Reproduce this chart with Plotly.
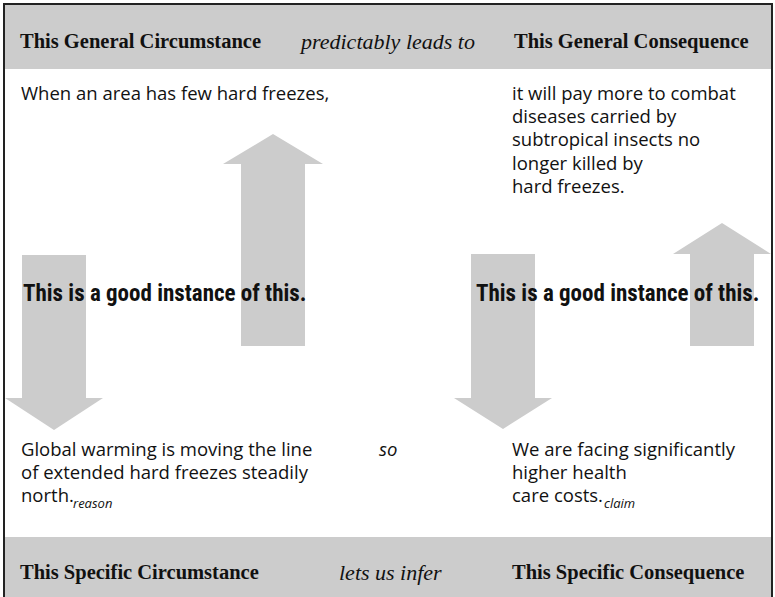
import plotly.graph_objects as go

W, H = 775, 597
GRAY = "#cccccc"
SERIF = "Liberation Serif"
SANS = "Open Sans"
COND = "Roboto Condensed, Liberation Sans Narrow, Roboto"

header_top = ["This General Circumstance", "predictably leads to", "This General Consequence"]
header_bottom = ["This Specific Circumstance", "lets us infer", "This Specific Consequence"]
general_left = ["When an area has few hard freezes,"]
general_right = ["it will pay more to combat", "diseases carried by", "subtropical insects no",
                 "longer killed by", "hard freezes."]
specific_left = ["Global warming is moving the line", "of extended hard freezes steadily", "north."]
specific_right = ["We are facing significantly", "higher health", "care costs."]
labels = ["reason", "claim"]
connector = "so"
instance_text = "This is a good instance of this."

# arrows: (center x, shaft half width, head half width, shaft end y, head base y, tip y)
arrows = [
    (273, 32, 50, 346, 164, 134),   # up, left-centre
    (54, 32, 49, 255, 398, 430),    # down, left
    (503, 32, 49, 254, 398, 429),   # down, right-centre
    (722, 32, 49, 346, 254, 223),   # up, right
]

fig = go.Figure()
shapes = []
shapes.append(dict(type="rect", x0=4, x1=772, y0=4, y1=69, fillcolor=GRAY, line_width=0, layer="below"))
shapes.append(dict(type="rect", x0=4, x1=772, y0=537, y1=H + 2, fillcolor=GRAY, line_width=0, layer="below"))
for cx, sw, hw, se, hb, tip in arrows:
    p = (f"M{cx-sw},{se} L{cx-sw},{hb} L{cx-hw},{hb} L{cx},{tip} L{cx+hw},{hb} "
         f"L{cx+sw},{hb} L{cx+sw},{se} Z")
    shapes.append(dict(type="path", path=p, fillcolor=GRAY, line_width=0, layer="below"))
shapes.append(dict(type="rect", x0=4, x1=772, y0=4, y1=H + 5, fillcolor="rgba(0,0,0,0)",
                   line=dict(color="#222222", width=2)))

ann = []
def add(text, x, y, font, size, xanchor="left", color="#111111"):
    ann.append(dict(text=text, x=x, y=y, xref="x", yref="y", xanchor=xanchor, yanchor="middle",
                    showarrow=False, font=dict(family=font, size=size, color=color)))

add("<b>" + header_top[0] + "</b>", 18, 41, SERIF, 20.5)
add("<i>" + header_top[1] + "</i>", 387, 41, SERIF, 22, xanchor="center")
add("<b>" + header_top[2] + "</b>", 512, 41, SERIF, 20.5)
add("<b>" + header_bottom[0] + "</b>", 18, 572, SERIF, 20.5)
add("<i>" + header_bottom[1] + "</i>", 390, 572, SERIF, 22, xanchor="center")
add("<b>" + header_bottom[2] + "</b>", 510, 572, SERIF, 20.5)

LH = 23.4
BS = 18.5
TOP = 92
BOT = 448
for i, t in enumerate(general_left):
    add(t, 19, TOP + i * LH, SANS, BS)
for i, t in enumerate(general_right):
    add(t, 510, TOP + i * LH, SANS, BS)
for i, t in enumerate(specific_left):
    add(t, 19, BOT + i * LH, SANS, BS)
for i, t in enumerate(specific_right):
    add(t, 510, BOT + i * LH, SANS, BS)
add("<i>" + labels[0] + "</i>", 71, BOT + 2 * LH + 8, SANS, 13)
add("<i>" + labels[1] + "</i>", 602, BOT + 2 * LH + 8, SANS, 13)
add("<i>" + connector + "</i>", 377, BOT, SANS, BS)

add("<b>" + instance_text + "</b>", 21, 293, COND, 23)
add("<b>" + instance_text + "</b>", 474, 293, COND, 23)

fig.update_layout(
    width=W, height=H, margin=dict(l=0, r=0, t=0, b=0),
    paper_bgcolor="white", plot_bgcolor="white",
    xaxis=dict(range=[0, W], visible=False, fixedrange=True),
    yaxis=dict(range=[H, 0], visible=False, fixedrange=True),
    shapes=shapes, annotations=ann, showlegend=False,
)
fig.write_html("out.html", config={"displayModeBar": False},
               post_script="document.body.style.margin='0px';document.body.style.overflow='hidden';")
